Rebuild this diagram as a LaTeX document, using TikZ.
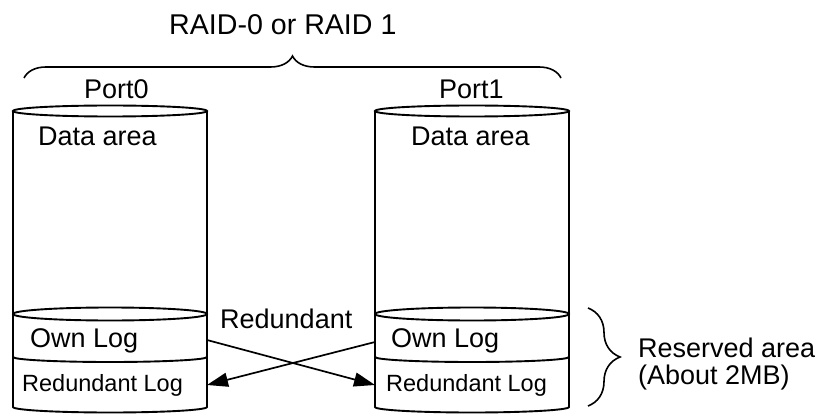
\documentclass[tikz,border=0pt]{standalone}
\usepackage{fontspec}
\setmainfont{Liberation Sans}
\usepackage{tikz}
\usetikzlibrary{arrows.meta,decorations.pathreplacing}
\tikzset{disk/.style={line width=1.9pt},
         lbl/.style={anchor=base west,inner sep=0pt,font=\fontsize{27}{32}\selectfont},
         biglbl/.style={lbl,font=\fontsize{28.6}{34}\selectfont},
         smalllbl/.style={lbl,font=\fontsize{23.5}{28}\selectfont},
         xfer/.style={line width=1.7pt,-{Triangle[length=21pt,width=14pt]}},
         bracket/.style={line width=1.6pt,decorate}}

\begin{document}
\begin{tikzpicture}[x=1pt,y=-1pt]
\useasboundingbox (0,0) rectangle (816,414);
% the two disks
\foreach \cx in {13,375}{
  \draw [disk] (\cx,111) -- (\cx,407) arc[start angle=180,end angle=360,x radius=97pt,y radius=5.5pt] -- (\cx+194,111);
  \draw [disk] (\cx+97,111) ellipse (97pt and 5.5pt);
  \draw [disk] (\cx+97,314) ellipse (97pt and 6.5pt);
  \draw [disk] (\cx,357) arc[start angle=180,end angle=360,x radius=97pt,y radius=5pt];
}
\node [biglbl] (title) at (169,35) {RAID-0 or RAID 1};
\node [lbl] (port0) at (84,99) {Port0};
\node [lbl] (port1) at (439,99) {Port1};
\node [lbl] (data0) at (38,146) {Data area};
\node [lbl] (data1) at (411,146) {Data area};
\node [lbl] (own0) at (30,347) {Own Log};
\node [lbl] (own1) at (391,347) {Own Log};
\node [smalllbl] (red0) at (22,391) {Redundant Log};
\node [smalllbl] (red1) at (386,391) {Redundant Log};
\node [lbl] (redlbl) at (220,328) {Redundant};
\node [lbl] (resv) at (638,357) {Reserved area};
\node [lbl] (about) at (638,384) {(About 2MB)};
% copies
\coordinate (out0) at (207,340);
\coordinate (in1) at (375,385);
\coordinate (out1) at (375,342);
\coordinate (in0) at (207,385);
\draw [xfer] (out0) -- (in1);
\draw [xfer] (out1) -- (in0);
% braces
\draw [bracket,decoration={brace,amplitude=22pt}] (24,78) -- (561,78);
\draw [bracket,decoration={brace,amplitude=32pt}] (588,308) -- (588,406);
\end{tikzpicture}
\end{document}
